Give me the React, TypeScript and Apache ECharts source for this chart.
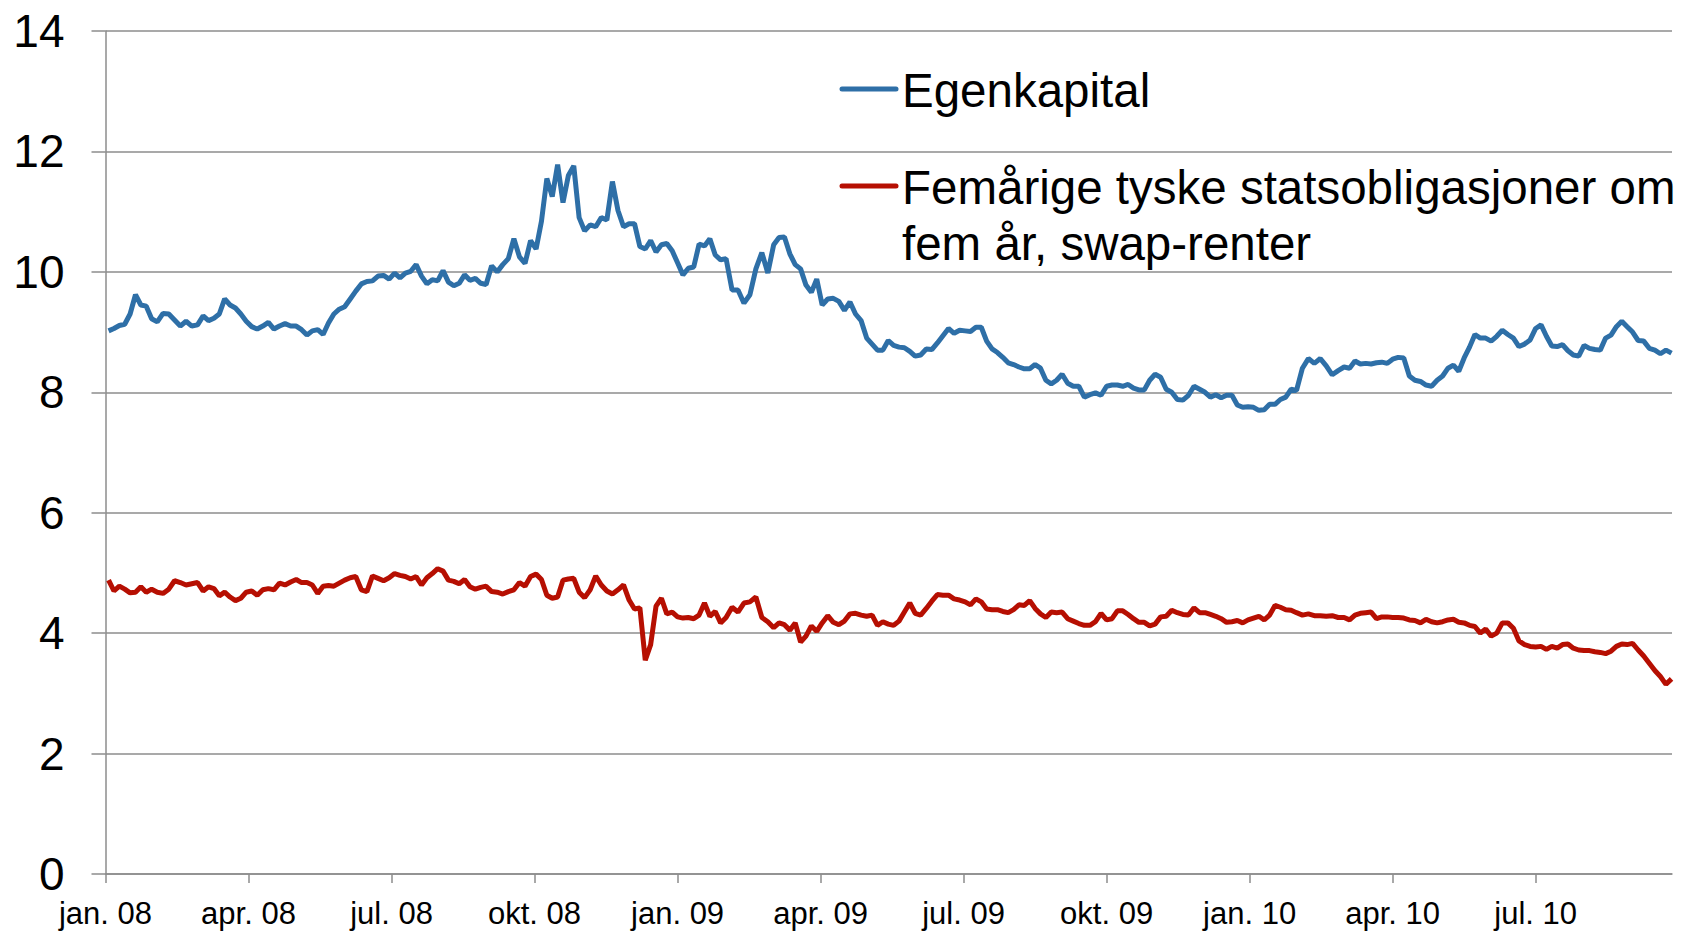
import React, { useEffect, useRef } from "react";
import * as echarts from "echarts";

// Observations every 3.5 days, starting 3 Jan 2008
const START_UTC = Date.UTC(2008, 0, 3);
const STEP_DAYS = 3.5;

const egenkapital: number[] = [
  9.02, 9.06, 9.11, 9.13, 9.3, 9.62, 9.45, 9.43, 9.22, 9.17,
  9.31, 9.3, 9.2, 9.1, 9.18, 9.1, 9.12, 9.27, 9.19, 9.23,
  9.3, 9.55, 9.45, 9.4, 9.3, 9.18, 9.09, 9.05, 9.1, 9.16,
  9.05, 9.1, 9.14, 9.1, 9.1, 9.04, 8.95, 9.02, 9.04, 8.96,
  9.15, 9.3, 9.38, 9.42, 9.55, 9.68, 9.8, 9.84, 9.85, 9.93,
  9.94, 9.88, 9.98, 9.9, 9.98, 10.01, 10.12, 9.93, 9.8, 9.87,
  9.85, 10.02, 9.83, 9.77, 9.81, 9.95, 9.86, 9.89, 9.81, 9.79,
  10.1, 10.0, 10.12, 10.22, 10.55, 10.25, 10.14, 10.52, 10.38, 10.84,
  11.55, 11.25, 11.78, 11.15, 11.6, 11.76, 10.9, 10.68, 10.78, 10.75,
  10.9, 10.86, 11.5, 11.02, 10.75, 10.8, 10.8, 10.42, 10.38, 10.52,
  10.33, 10.45, 10.47, 10.35, 10.15, 9.95, 10.06, 10.08, 10.46, 10.43,
  10.55, 10.28, 10.2, 10.22, 9.7, 9.7, 9.48, 9.62, 10.05, 10.32,
  9.98, 10.45, 10.57, 10.58, 10.3, 10.12, 10.05, 9.78, 9.66, 9.88,
  9.45, 9.55, 9.56, 9.51, 9.36, 9.5, 9.3, 9.19, 8.9, 8.8,
  8.7, 8.7, 8.86, 8.78, 8.75, 8.74, 8.68, 8.6, 8.62, 8.72,
  8.71, 8.82, 8.94, 9.06, 8.98, 9.03, 9.02, 9.01, 9.08, 9.08,
  8.85, 8.72, 8.66, 8.58, 8.49, 8.46, 8.42, 8.39, 8.39, 8.46,
  8.4, 8.2, 8.14, 8.2, 8.3, 8.15, 8.1, 8.1, 7.92, 7.96,
  7.99, 7.95, 8.1, 8.12, 8.12, 8.1, 8.13, 8.07, 8.04, 8.04,
  8.2, 8.3, 8.25, 8.05, 8.0, 7.88, 7.87, 7.95, 8.1, 8.05,
  8.0, 7.92, 7.96, 7.91, 7.95, 7.95, 7.79, 7.75, 7.76, 7.75,
  7.7, 7.71, 7.8, 7.8, 7.88, 7.92, 8.05, 8.03, 8.4, 8.56,
  8.48, 8.56, 8.44, 8.29, 8.36, 8.42, 8.4, 8.52, 8.47, 8.48,
  8.47, 8.49, 8.5, 8.48, 8.55, 8.58, 8.57, 8.27, 8.2, 8.18,
  8.12, 8.1, 8.2, 8.27, 8.4, 8.45, 8.35, 8.57, 8.75, 8.96,
  8.9, 8.9, 8.85, 8.93, 9.03, 8.96, 8.9, 8.76, 8.8, 8.87,
  9.06, 9.12, 8.93, 8.77, 8.76, 8.79, 8.69, 8.62, 8.6, 8.78,
  8.73, 8.71, 8.7, 8.9, 8.95, 9.09, 9.18, 9.09, 9.0, 8.86,
  8.85, 8.73, 8.7, 8.64, 8.7, 8.65,
];

const swapRenter: number[] = [
  4.88, 4.7, 4.78, 4.73, 4.67, 4.68, 4.77, 4.68, 4.73, 4.68,
  4.66, 4.73, 4.87, 4.84, 4.8, 4.82, 4.84, 4.7, 4.77, 4.74,
  4.62, 4.68, 4.6, 4.54, 4.58, 4.68, 4.7, 4.63, 4.72, 4.74,
  4.72, 4.83, 4.8, 4.85, 4.89, 4.84, 4.84, 4.8, 4.66, 4.78,
  4.79, 4.78, 4.83, 4.88, 4.92, 4.94, 4.72, 4.69, 4.95, 4.91,
  4.87, 4.92, 4.99, 4.96, 4.94, 4.9, 4.94, 4.8, 4.92, 4.99,
  5.07, 5.03, 4.88, 4.86, 4.82, 4.89, 4.77, 4.73, 4.76, 4.78,
  4.69, 4.68, 4.65, 4.69, 4.72, 4.84, 4.78, 4.94, 4.98, 4.89,
  4.63, 4.58, 4.6, 4.88, 4.9, 4.91, 4.68, 4.59, 4.72, 4.95,
  4.8, 4.7, 4.65, 4.72, 4.8, 4.55, 4.4, 4.42, 3.55, 3.81,
  4.45, 4.58, 4.32, 4.35, 4.27, 4.25, 4.26, 4.24, 4.3, 4.5,
  4.28, 4.36, 4.17, 4.26, 4.43, 4.35, 4.5, 4.52, 4.6, 4.26,
  4.19, 4.09, 4.17, 4.14, 4.05, 4.17, 3.85, 3.95, 4.12, 4.03,
  4.17, 4.29, 4.18, 4.14, 4.2, 4.32, 4.33, 4.3, 4.28, 4.3,
  4.13, 4.19, 4.15, 4.13, 4.2, 4.35, 4.5, 4.33, 4.3, 4.41,
  4.53, 4.64, 4.63, 4.63, 4.57, 4.55, 4.52, 4.47, 4.57, 4.52,
  4.4, 4.39, 4.39, 4.36, 4.34, 4.39, 4.47, 4.46, 4.54, 4.41,
  4.32, 4.26, 4.35, 4.34, 4.35, 4.24, 4.2, 4.16, 4.13, 4.13,
  4.19, 4.33, 4.22, 4.24, 4.37, 4.37, 4.31, 4.24, 4.18, 4.18,
  4.12, 4.15, 4.27, 4.28, 4.38, 4.34, 4.31, 4.3, 4.42, 4.34,
  4.34, 4.31, 4.28, 4.24, 4.18, 4.19, 4.21, 4.17, 4.22, 4.25,
  4.28, 4.22, 4.3, 4.46, 4.43, 4.39, 4.38, 4.34, 4.3, 4.32,
  4.29, 4.29, 4.28, 4.29, 4.26, 4.26, 4.22, 4.3, 4.33, 4.34,
  4.35, 4.24, 4.27, 4.27, 4.26, 4.26, 4.25, 4.22, 4.21, 4.17,
  4.23, 4.19, 4.17, 4.19, 4.22, 4.23, 4.18, 4.17, 4.13, 4.11,
  4.0, 4.07, 3.95, 4.0, 4.17, 4.17, 4.08, 3.87, 3.81, 3.78,
  3.77, 3.78, 3.73, 3.78, 3.75, 3.81, 3.82, 3.75, 3.72, 3.71,
  3.71, 3.69, 3.68, 3.66, 3.7, 3.78, 3.82, 3.81, 3.83, 3.72,
  3.62, 3.5, 3.38, 3.28, 3.15, 3.24,
];

const seriesNames = [
  "Egenkapital",
  "Femårige tyske statsobligasjoner om\nfem år, swap-renter",
];
const quarterLabels = ["jan.", "apr.", "jul.", "okt."];
const quarterTicks = [0, 3, 6, 9, 12, 15, 18, 21, 24, 27, 30];

const BLUE = "#2E6FA7";
const RED = "#B60F02";
const GRID = "#8C8C8C";
const FONT = "'Liberation Sans', Arial, sans-serif";

// months since Jan 2008 (fractional), for a UTC timestamp
function monthIndex(ts: number): number {
  const d = new Date(ts);
  const y = d.getUTCFullYear();
  const m = d.getUTCMonth();
  const ms0 = Date.UTC(y, m, 1);
  const ms1 = Date.UTC(y, m + 1, 1);
  return (y - 2008) * 12 + m + (ts - ms0) / (ms1 - ms0);
}

const obsMonths = egenkapital.map((_, i) =>
  monthIndex(START_UTC + i * STEP_DAYS * 86400000)
);

function quarterLabel(v: number): string {
  const q = Math.round(v / 3);
  const yr = 8 + Math.floor(q / 4);
  return quarterLabels[q % 4] + " " + String(yr).padStart(2, "0");
}

export default function App() {
  const ref = useRef<HTMLDivElement>(null);

  useEffect(() => {
    document.body.style.margin = "0";
    if (!ref.current) return;
    const chart = echarts.init(ref.current, undefined, { renderer: "svg" });
    chart.setOption({
      animation: false,
      backgroundColor: "#ffffff",
      grid: { left: 105.5, right: 15, top: 31, bottom: 57, containLabel: false },
      xAxis: {
        type: "value",
        min: 0,
        max: 32.86,
        interval: 3,
        axisLine: { show: true, onZero: false, lineStyle: { color: GRID, width: 1.5 } },
        axisTick: {
          show: true,
          length: 9,
          customValues: quarterTicks,
          lineStyle: { color: GRID, width: 1.5 },
        },
        axisLabel: {
          customValues: quarterTicks,
          formatter: (v: number) => quarterLabel(v),
          fontSize: 31,
          fontFamily: FONT,
          color: "#000",
          margin: 24,
        },
        splitLine: { show: false },
      },
      yAxis: {
        type: "value",
        min: 0,
        max: 14,
        interval: 2,
        axisLine: { show: true, lineStyle: { color: GRID, width: 1.5 } },
        axisTick: { show: true, length: 14, lineStyle: { color: GRID, width: 1.5 } },
        axisLabel: {
          fontSize: 46,
          fontFamily: FONT,
          color: "#000",
          margin: 41,
        },
        splitLine: { show: true, lineStyle: { color: GRID, width: 1.5 } },
      },
      series: [
        {
          name: seriesNames[0],
          type: "line",
          data: egenkapital.map((v, i) => [obsMonths[i], v]),
          showSymbol: false,
          symbol: "none",
          lineStyle: { color: BLUE, width: 5 },
          itemStyle: { color: BLUE },
        },
        {
          name: seriesNames[1],
          type: "line",
          data: swapRenter.map((v, i) => [obsMonths[i], v]),
          showSymbol: false,
          symbol: "none",
          lineStyle: { color: RED, width: 5 },
          itemStyle: { color: RED },
        },
      ],
      graphic: [
        {
          type: "line",
          shape: { x1: 842, y1: 89, x2: 896, y2: 89 },
          style: { stroke: BLUE, lineWidth: 5, lineCap: "round" },
        },
        {
          type: "text",
          x: 902,
          y: 62,
          style: {
            text: seriesNames[0],
            fontSize: 47.5,
            fontFamily: FONT,
            fill: "#000",
            lineHeight: 56,
            verticalAlign: "top",
          },
        },
        {
          type: "line",
          shape: { x1: 842, y1: 186, x2: 896, y2: 186 },
          style: { stroke: RED, lineWidth: 5, lineCap: "round" },
        },
        {
          type: "text",
          x: 902,
          y: 159,
          style: {
            text: seriesNames[1],
            fontSize: 47.5,
            fontFamily: FONT,
            fill: "#000",
            lineHeight: 56,
            verticalAlign: "top",
          },
        },
      ],
    });
    return () => chart.dispose();
  }, []);

  return <div ref={ref} style={{ width: 1687, height: 931 }} />;
}
